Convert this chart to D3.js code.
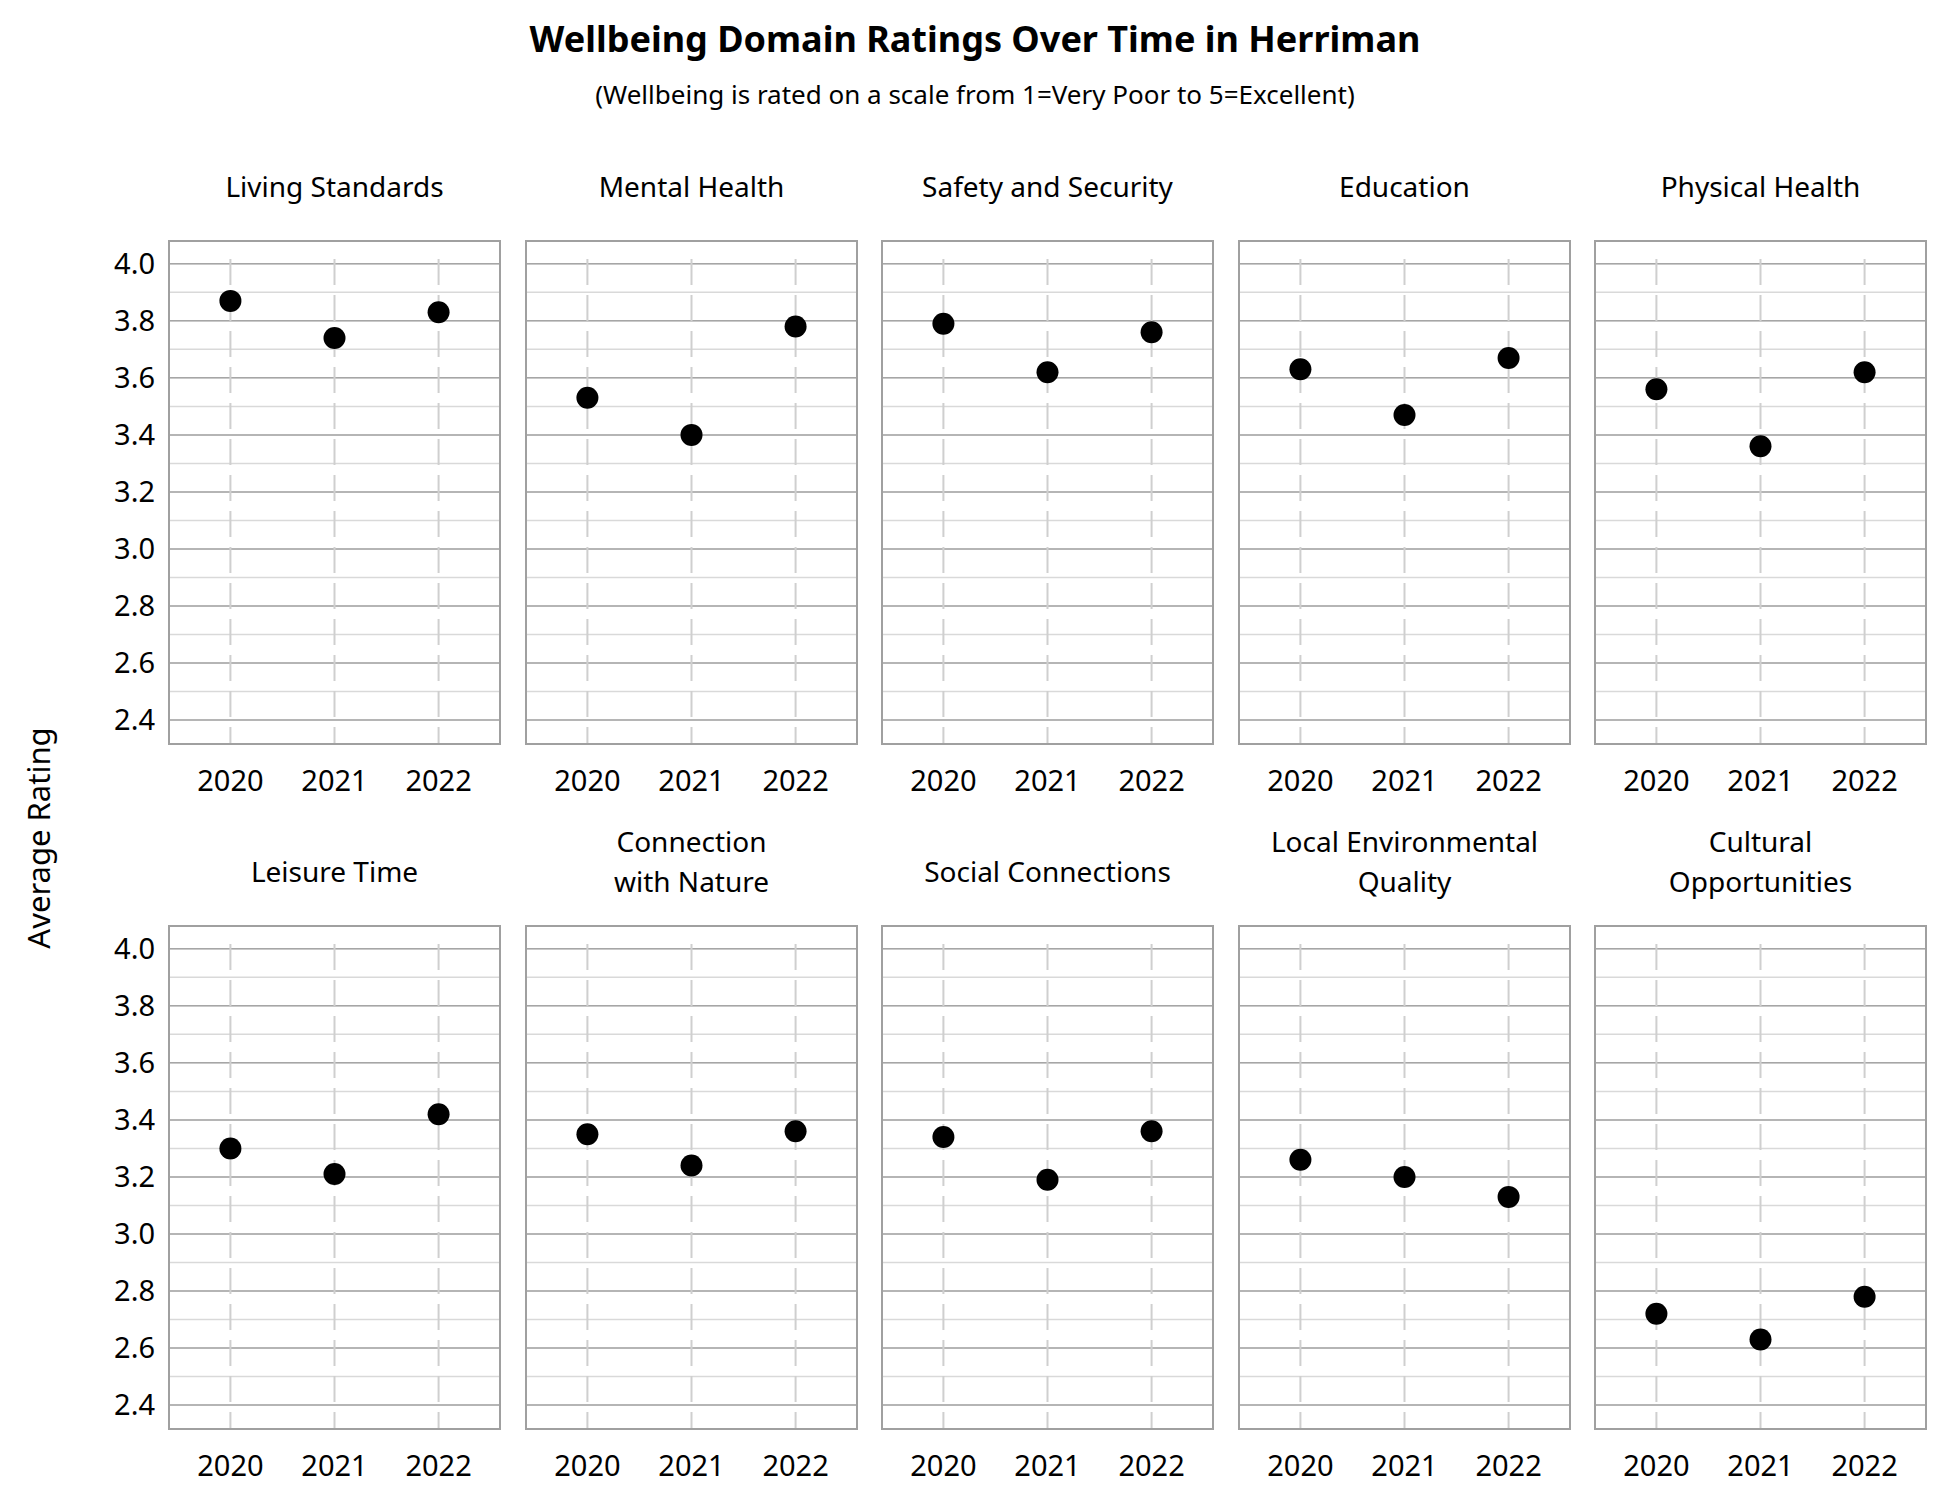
<!DOCTYPE html>
<html><head><meta charset="utf-8">
<script src="https://cdn.jsdelivr.net/npm/d3@7"></script>
<style>body{margin:0;background:#fff}text{font-family:"Noto Sans",sans-serif}</style>
</head><body><div id="chart"></div>
<script>
const domains = ['Living Standards', 'Mental Health', 'Safety and Security', 'Education', 'Physical Health',
  'Leisure Time', 'Connection\nwith Nature', 'Social Connections', 'Local Environmental\nQuality', 'Cultural\nOpportunities']
const years = ['2020', '2021', '2022']
const ratings = [
  [3.87, 3.74, 3.83],
  [3.53, 3.40, 3.78],
  [3.79, 3.62, 3.76],
  [3.63, 3.47, 3.67],
  [3.56, 3.36, 3.62],
  [3.30, 3.21, 3.42],
  [3.35, 3.24, 3.36],
  [3.34, 3.19, 3.36],
  [3.26, 3.20, 3.13],
  [2.72, 2.63, 2.78]
]
const yTicks = [2.4, 2.6, 2.8, 3.0, 3.2, 3.4, 3.6, 3.8, 4.0]

const W = 1950, H = 1500
const pw = 331, ph = 503
const lefts = [169, 526, 882, 1239, 1595]
const tops = [241, 926]

const svg = d3.select('#chart').append('svg').attr('width', W).attr('height', H)

svg.append('text').attr('x', 975).attr('y', 52).attr('text-anchor', 'middle')
  .attr('font-size', '36px').attr('font-weight', 'bold').text('Wellbeing Domain Ratings Over Time in Herriman')
svg.append('text').attr('x', 975).attr('y', 104).attr('text-anchor', 'middle')
  .attr('font-size', '26px').text('(Wellbeing is rated on a scale from 1=Very Poor to 5=Excellent)')
svg.append('text').attr('transform', 'translate(50, 838) rotate(-90)').attr('text-anchor', 'middle')
  .attr('font-size', '31px').text('Average Rating')

const x = d3.scalePoint().domain(years).range([0, pw]).padding(0.59)
const y = d3.scaleLinear().domain([2.316, 4.08]).range([ph, 0])
const minor = d3.range(2.3, 4.05, 0.1).map(v => +v.toFixed(1))

domains.forEach((name, i) => {
  const row = Math.floor(i / 5), col = i % 5
  const g = svg.append('g').attr('transform', `translate(${lefts[col]}, ${tops[row]})`)

  g.selectAll('.minor').data(minor.filter(v => y(v) > 0 && y(v) < ph)).enter().append('line')
    .attr('x1', 0).attr('x2', pw).attr('y1', d => y(d)).attr('y2', d => y(d))
    .attr('stroke', '#d9d9d9').attr('stroke-width', 1.5)
  g.selectAll('.major').data(yTicks).enter().append('line')
    .attr('x1', 0).attr('x2', pw).attr('y1', d => y(d)).attr('y2', d => y(d))
    .attr('stroke', '#a6a6a6').attr('stroke-width', 1.5)
  g.selectAll('.vline').data(years).enter().append('line')
    .attr('x1', d => x(d)).attr('x2', d => x(d)).attr('y1', 18).attr('y2', ph)
    .attr('stroke', '#cfcfcf').attr('stroke-width', 2).attr('stroke-dasharray', '26,10')
  g.append('rect').attr('width', pw).attr('height', ph)
    .attr('fill', 'none').attr('stroke', '#a0a0a0').attr('stroke-width', 2)

  g.selectAll('circle').data(ratings[i]).enter().append('circle')
    .attr('cx', (d, j) => x(years[j])).attr('cy', d => y(d)).attr('r', 11).attr('fill', '#000')

  g.selectAll('.yr').data(years).enter().append('text')
    .attr('x', d => x(d)).attr('y', ph + 47).attr('text-anchor', 'middle')
    .attr('font-size', '29px').text(d => d)

  if (col === 0) {
    g.selectAll('.yt').data(yTicks).enter().append('text')
      .attr('x', -14).attr('y', d => y(d) + 10).attr('text-anchor', 'end')
      .attr('font-size', '29px').text(d => d.toFixed(1))
  }

  const lines = name.split('\n')
  const t = g.append('text').attr('x', pw / 2).attr('text-anchor', 'middle').attr('font-size', '28px')
  lines.forEach((l, k) => {
    t.append('tspan').attr('x', pw / 2)
      .attr('y', lines.length === 1 ? -44 : -74 + k * 40).text(l)
  })
})
</script></body></html>
